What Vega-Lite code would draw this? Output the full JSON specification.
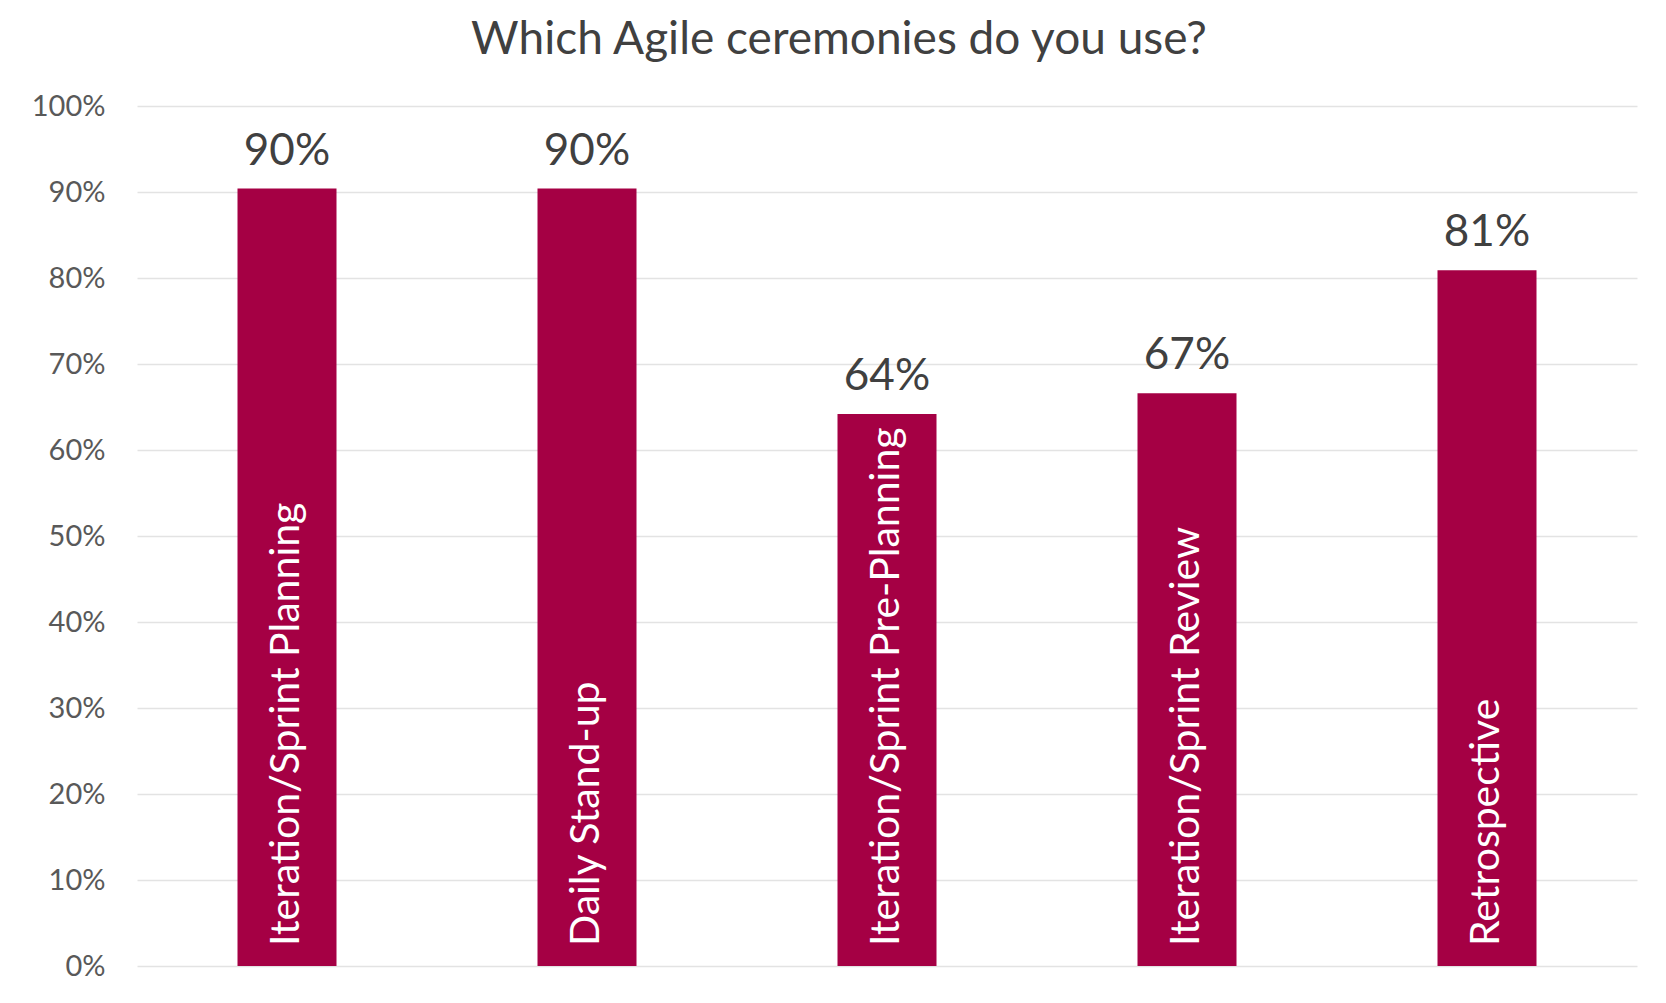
{
  "$schema": "https://vega.github.io/schema/vega-lite/v6.json",
  "autosize": {"type": "none"},
  "width": 1500,
  "height": 860,
  "padding": {"left": 137, "top": 106, "right": 29, "bottom": 37},
  "background": "#ffffff",
  "config": {"view": {"stroke": null}},
  "title": {
    "text": "Which Agile ceremonies do you use?",
    "anchor": "middle",
    "frame": "group",
    "dx": -48,
    "dy": 8,
    "offset": 0,
    "baseline": "alphabetic",
    "font": "Lato",
    "fontSize": 46,
    "fontWeight": "normal",
    "color": "#404040"
  },
  "data": {
    "values": [
      {"ceremony": "Iteration/Sprint Planning", "share": 0.904},
      {"ceremony": "Daily Stand-up", "share": 0.904},
      {"ceremony": "Iteration/Sprint Pre-Planning", "share": 0.642},
      {"ceremony": "Iteration/Sprint Review", "share": 0.666},
      {"ceremony": "Retrospective", "share": 0.809}
    ]
  },
  "encoding": {
    "x": {
      "field": "ceremony",
      "type": "nominal",
      "sort": null,
      "scale": {"paddingInner": 0.67, "paddingOuter": 0.335},
      "axis": null
    },
    "y": {
      "field": "share",
      "type": "quantitative",
      "scale": {"domain": [0, 1]},
      "axis": {
        "values": [0, 0.1, 0.2, 0.3, 0.4, 0.5, 0.6, 0.7, 0.8, 0.9, 1],
        "format": ".0%",
        "title": null,
        "domain": false,
        "ticks": false,
        "labelPadding": 32,
        "labelFont": "Lato",
        "labelFontSize": 29,
        "labelColor": "#595959",
        "gridColor": "#e3e3e3",
        "gridWidth": 1.5
      }
    }
  },
  "layer": [
    {"mark": {"type": "bar", "color": "#a50044"}},
    {
      "mark": {"type": "text", "baseline": "alphabetic", "dy": -24, "font": "Lato", "fontSize": 44, "color": "#404040"},
      "encoding": {"text": {"field": "share", "type": "quantitative", "format": ".0%"}}
    },
    {
      "mark": {"type": "text", "angle": 270, "align": "left", "baseline": "middle", "dx": 20, "font": "Lato", "fontSize": 41, "color": "#ffffff"},
      "encoding": {
        "y": {"datum": 0, "type": "quantitative"},
        "text": {"field": "ceremony", "type": "nominal"}
      }
    }
  ]
}
